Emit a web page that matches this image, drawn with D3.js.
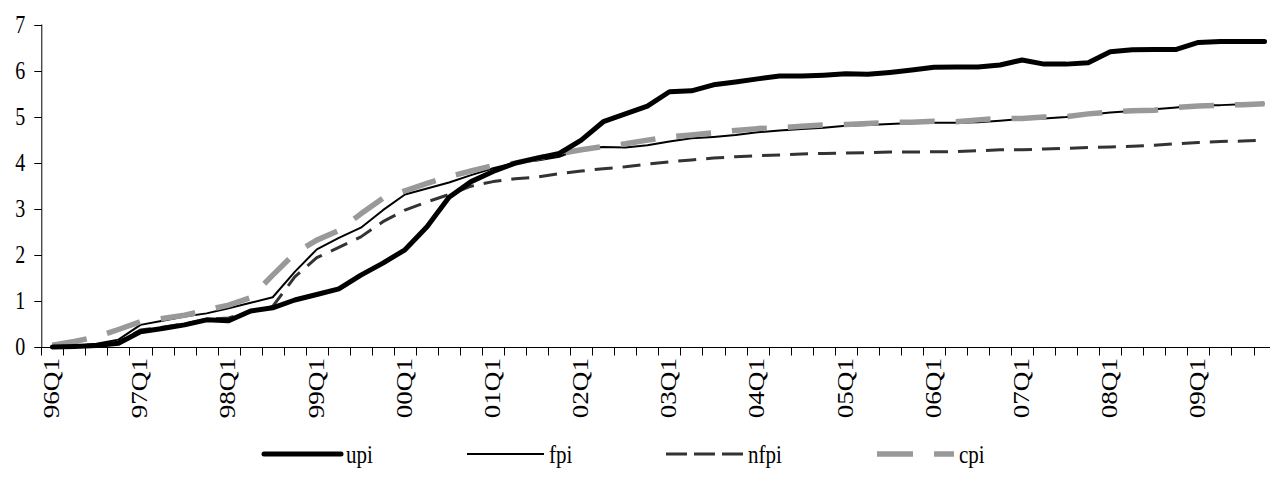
<!DOCTYPE html>
<html>
<head>
<meta charset="utf-8">
<script src="https://cdn.jsdelivr.net/npm/d3@7"></script>
<style>
  html, body { margin: 0; padding: 0; background: #fff; }
  text { font-family: "Liberation Serif", "Times New Roman", serif; fill: #000; }
</style>
</head>
<body>
<svg id="chart" width="1270" height="497"></svg>
<script>
// ---- data ----
const years = ["96","97","98","99","00","01","02","03","04","05","06","07","08","09"];
const quarterNames = ["Q1","Q2","Q3","Q4"];
const categories = [];
years.forEach(yr => quarterNames.forEach(q => categories.push(yr + q)));
const tickLabels = years.map(yr => yr + "Q1");
const yTicks = [0, 1, 2, 3, 4, 5, 6, 7];

const upi = [0, 0.01, 0.03, 0.08, 0.33, 0.40, 0.48, 0.59, 0.57, 0.78, 0.85, 1.02, 1.14, 1.26, 1.56, 1.82,
  2.11, 2.61, 3.25, 3.59, 3.81, 3.99, 4.10, 4.20, 4.49, 4.89, 5.06, 5.23, 5.54, 5.56, 5.69, 5.75,
  5.82, 5.88, 5.88, 5.90, 5.93, 5.92, 5.96, 6.01, 6.07, 6.08, 6.08, 6.12, 6.23, 6.14, 6.14, 6.17,
  6.41, 6.45, 6.46, 6.46, 6.61, 6.63, 6.63, 6.63];
const fpi = [0, 0.02, 0.07, 0.16, 0.48, 0.57, 0.66, 0.73, 0.84, 0.96, 1.08, 1.63, 2.12, 2.37, 2.59, 2.97,
  3.31, 3.44, 3.57, 3.73, 3.88, 4.00, 4.05, 4.13, 4.31, 4.34, 4.33, 4.38, 4.46, 4.53, 4.56, 4.60,
  4.66, 4.70, 4.73, 4.76, 4.80, 4.82, 4.84, 4.86, 4.87, 4.87, 4.88, 4.91, 4.95, 4.96, 4.99, 5.04,
  5.09, 5.12, 5.16, 5.20, 5.25, 5.25, 5.27, 5.28];
const nfpi = [0, 0.01, 0.04, 0.10, 0.37, 0.43, 0.50, 0.60, 0.63, 0.77, 0.88, 1.52, 1.94, 2.16, 2.39, 2.72,
  2.97, 3.15, 3.31, 3.49, 3.59, 3.65, 3.69, 3.76, 3.82, 3.87, 3.91, 3.97, 4.02, 4.06, 4.10, 4.13,
  4.15, 4.17, 4.19, 4.20, 4.21, 4.22, 4.23, 4.23, 4.24, 4.24, 4.26, 4.28, 4.28, 4.30, 4.31, 4.33,
  4.34, 4.36, 4.38, 4.41, 4.44, 4.46, 4.47, 4.49];
const cpi = [0.04, 0.12, 0.22, 0.38, 0.55, 0.62, 0.69, 0.80, 0.91, 1.07, 1.56, 2.03, 2.32, 2.53, 2.89, 3.23,
  3.39, 3.55, 3.70, 3.82, 3.94, 3.99, 4.10, 4.20, 4.28, 4.35, 4.41, 4.49, 4.56, 4.60, 4.65, 4.70,
  4.74, 4.76, 4.79, 4.82, 4.83, 4.85, 4.88, 4.88, 4.90, 4.89, 4.93, 4.96, 4.96, 4.99, 5.00, 5.06,
  5.10, 5.13, 5.14, 5.20, 5.23, 5.25, 5.26, 5.28];

const seriesNames = ["upi", "fpi", "nfpi", "cpi"];
const seriesValues = [upi, fpi, nfpi, cpi];

// ---- styles ----
const styles = {
  upi:  { color: "#000000", width: 5,   dash: null },
  fpi:  { color: "#000000", width: 2,   dash: null },
  nfpi: { color: "#333333", width: 3,   dash: "18,10" },
  cpi:  { color: "#999999", width: 5.5, dash: "35,21" }
};
const drawOrder = ["nfpi", "fpi", "cpi", "upi"];

// ---- layout ----
const svg = d3.select("#chart");
const plotLeft = 41.3, plotRight = 41.3 + 56 * 22.04;
const plotTop = 24.5, plotBottom = 347;
const fontSize = 20, vStretch = 1.22;
const xFontSize = 23, xStretch = 1.18;

const x = d3.scaleBand().domain(categories).range([plotLeft, plotRight]).paddingInner(0).paddingOuter(0);
const y = d3.scaleLinear().domain([0, 7]).range([plotBottom, plotTop]);
const xc = c => x(c) + x.bandwidth() / 2;

// y axis
const yAxisG = svg.append("g").attr("transform", `translate(${plotLeft},0)`);
yAxisG.append("line").attr("x1", 0.5).attr("x2", 0.5).attr("y1", y(7)).attr("y2", y(0))
  .attr("stroke", "#000").attr("stroke-width", 1);
yTicks.forEach(v => {
  yAxisG.append("line").attr("x1", -7).attr("x2", 0.5)
    .attr("y1", Math.round(y(v)) + 0.5).attr("y2", Math.round(y(v)) + 0.5)
    .attr("stroke", "#000").attr("stroke-width", 1);
  yAxisG.append("text")
    .attr("transform", `translate(-16,${y(v)}) scale(1,${vStretch})`)
    .attr("text-anchor", "end").attr("dy", "0.34em")
    .style("font-size", fontSize + "px").text(v);
});

// x axis
const xAxisG = svg.append("g");
xAxisG.append("line").attr("x1", plotLeft).attr("x2", 1270).attr("y1", Math.round(plotBottom) + 0.5).attr("y2", Math.round(plotBottom) + 0.5)
  .attr("stroke", "#000").attr("stroke-width", 1);
categories.concat([null]).forEach(c => {
  const px = c === null ? plotRight : x(c);
  xAxisG.append("line").attr("x1", Math.round(px) + 0.5).attr("x2", Math.round(px) + 0.5)
    .attr("y1", plotBottom).attr("y2", plotBottom + 8.5).attr("stroke", "#000").attr("stroke-width", 1);
});
tickLabels.forEach(lbl => {
  xAxisG.append("text")
    .attr("transform", `translate(${xc(lbl) - 1},358) rotate(-90) scale(${xStretch},1)`)
    .attr("text-anchor", "end").attr("dy", "0.34em")
    .style("font-size", xFontSize + "px").text(lbl);
});

// lines
const line = d3.line().x((d, i) => xc(categories[i])).y(d => y(d));
drawOrder.forEach(name => {
  const s = styles[name];
  const vals = seriesValues[seriesNames.indexOf(name)];
  svg.append("path").datum(vals).attr("d", line)
    .attr("fill", "none").attr("stroke", s.color).attr("stroke-width", s.width)
    .attr("stroke-linejoin", "round")
    .attr("stroke-linecap", name === "upi" ? "round" : "butt")
    .attr("stroke-dasharray", s.dash);
});

// legend
const legendX = [264, 467, 666, 877];
const legendY = 454;
seriesNames.forEach((name, i) => {
  const s = styles[name];
  const lx = legendX[i];
  svg.append("line").attr("x1", lx).attr("x2", lx + 77).attr("y1", legendY).attr("y2", legendY)
    .attr("stroke", s.color).attr("stroke-width", s.width)
    .attr("stroke-linecap", name === "upi" ? "round" : "butt")
    .attr("stroke-dasharray", name === "nfpi" ? "21,7" : (name === "cpi" ? "36,21" : null));
  svg.append("text")
    .attr("transform", `translate(${lx + 82},${legendY}) scale(1,${vStretch})`)
    .attr("dy", "0.34em").style("font-size", "21px").text(name);
});
</script>
</body>
</html>
